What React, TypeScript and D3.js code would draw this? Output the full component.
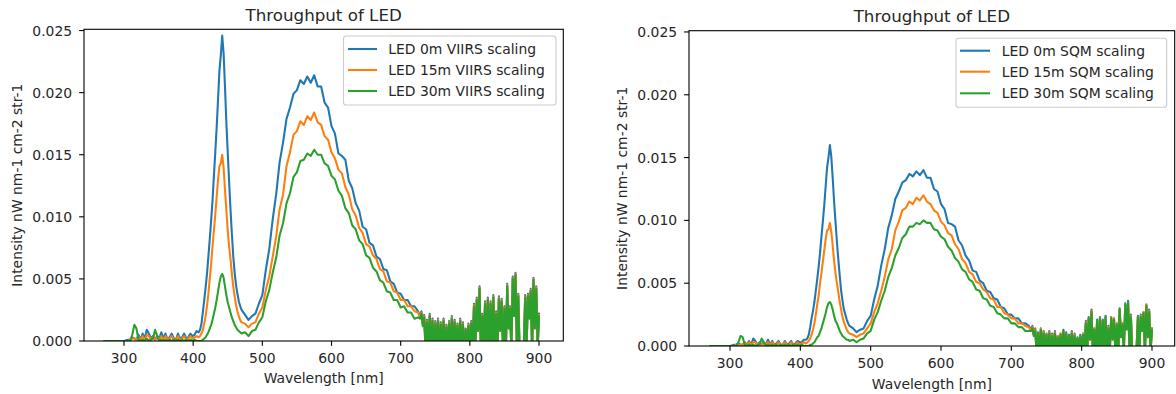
import React from "react";
import * as d3 from "d3";

// ---------- DATA (intensity values in units of 1e-4 nW nm-1 cm-2 str-1) ----------
const UNIT = 1e-4;

const wavelength = [
  272, 280, 290, 300, 306,
  309, 312, 315, 318, 321, 324, 327, 330, 333, 336, 339, 342, 345, 348, 351, 354, 357, 360, 363, 366,
  369, 372, 375, 378, 381, 384, 387, 390, 393, 396, 399, 402, 405,
  408, 410, 412, 414, 416, 418, 420, 422, 424, 426, 428, 430, 432, 434, 436, 438, 440, 442, 444, 446,
  448, 450, 452, 454, 456, 458, 460, 462, 464, 466, 468, 470,
  475, 480, 485, 490, 495, 500, 505, 510, 515, 520, 525, 530, 535, 540, 545, 550, 555, 560, 565, 570,
  575, 580, 585, 590, 595, 600, 605, 610, 615, 620, 625, 630, 635, 640, 645, 650, 655, 660, 665, 670,
  675, 680, 685, 690, 695, 700, 705, 710, 715, 720, 725,
  728, 730, 732, 734, 736, 738, 740, 742, 744, 746, 748, 750, 752, 754, 756, 758, 760, 762, 764, 766,
  768, 770, 772, 774, 776, 778, 780, 782, 784, 786, 788, 790, 792, 794, 796, 798, 800, 802, 804, 806,
  808, 810, 812, 814, 816, 818, 820, 822, 824, 826, 828, 830, 832, 834, 836, 838, 840, 842, 844, 846,
  848, 850, 852, 854, 856, 858, 860, 862, 864, 866, 868, 870, 872, 874, 876, 878, 880, 882, 884, 886,
  888, 890, 892, 894, 896, 898, 900,
];

const viirs0m = [
  0, 0, 0, 0, 1,
  1, 3, 2, 1, 5, 1, 6, 2, 9, 6, 2, 4, 1, 4, 2, 7, 2, 6, 1, 3, 6, 2, 1, 6, 2, 3, 6, 2, 3, 6, 4, 5, 8,
  7, 9, 14, 23, 33, 43, 54, 68, 82, 97, 113, 133, 152, 172, 195, 218, 230, 246, 232, 205,
  176, 152, 128, 106, 86, 68, 55, 45, 38, 32, 28, 25,
  21, 17, 20, 22, 30, 37, 57, 74, 98, 118, 144, 160, 179, 188, 199, 202, 210, 207, 213, 208,
  214, 205, 205, 192, 188, 173, 167, 151, 149, 146, 129, 123, 111, 105, 92, 90, 79, 77, 68, 66,
  58, 57, 48, 46, 39, 38, 33, 33, 28, 28, 24,
  20, 24, 14, 21, -8, 17, -6, 22, -5, 18, -8, 16, -6, 18, -8, 15, -5, 18, -8, 13,
  -4, 16, -6, 20, -5, 17, -8, 14, -3, 18, -6, 15, -8, 10, -2, 14, -6, 16, -4, 30,
  -6, 35, 9, 44, -10, 22, -4, 32, -8, 35, -6, 32, -10, 37, -8, 24, -6, 36, 9, 34,
  -8, 28, -10, 46, 11, 28, -6, 52, 22, 55, -5, 38, -10, -6, -10, -4, 37, -6, 38, 20,
  42, -8, 51, 11, 44, -6, 22,
];

const viirs15m = [
  0, 0, 0, 0, 0,
  1, 2, 2, 1, 3, 1, 4, 1, 5, 4, 1, 3, 1, 3, 1, 4, 1, 4, 1, 2, 4, 1, 1, 4, 1, 2, 4, 1, 2, 4, 2, 3, 4,
  3, 4, 6, 9, 14, 20, 28, 38, 50, 62, 76, 89, 102, 116, 130, 141, 143, 150, 140, 122,
  105, 89, 76, 66, 54, 44, 36, 29, 24, 20, 17, 15,
  14, 11, 14, 15, 22, 27, 41, 52, 68, 84, 106, 118, 141, 152, 166, 169, 177, 174, 181, 178,
  184, 176, 174, 165, 162, 152, 147, 138, 135, 124, 118, 106, 101, 91, 87, 78, 76, 69, 66, 58,
  56, 48, 47, 40, 39, 33, 33, 28, 28, 24, 23,
  19, 23, 13, 20, -8, 16, -6, 21, -5, 17, -8, 15, -6, 17, -8, 14, -5, 17, -8, 12,
  -4, 15, -6, 19, -5, 16, -8, 13, -3, 17, -6, 14, -8, 9, -2, 13, -6, 15, -4, 29,
  -6, 34, 8, 43, -10, 21, -4, 31, -8, 34, -6, 31, -10, 36, -8, 23, -6, 35, 8, 33,
  -8, 27, -10, 45, 10, 27, -6, 51, 21, 54, -5, 37, -10, -6, -10, -4, 36, -6, 37, 19,
  41, -8, 50, 10, 43, -6, 21,
];

const viirs30m = [
  0, 0, 0, 0, 0,
  0, 5, 13, 10, 1, 0, 1, 0, 2, 0, 1, 2, 9, 4, 0, 1, 0, 1, 0, 1, 0, 1, 0, 1, 0, 1, 0, 1, 0, 1, 0, 1, 0,
  0, 0, 0, 1, 2, 3, 5, 7, 10, 13, 17, 22, 27, 33, 40, 47, 52, 54, 51, 44,
  37, 31, 27, 23, 19, 16, 13, 11, 9, 8, 7, 6,
  7, 4, 8, 9, 15, 19, 32, 41, 55, 67, 85, 95, 111, 119, 132, 136, 145, 146, 151, 149,
  154, 150, 150, 143, 141, 133, 130, 121, 117, 107, 103, 93, 90, 81, 78, 69, 67, 59, 56, 49,
  47, 40, 39, 33, 33, 27, 28, 23, 23, 18, 19,
  18, 22, 12, 19, -8, 15, -6, 20, -5, 16, -8, 14, -6, 16, -8, 13, -5, 16, -8, 11,
  -4, 14, -6, 18, -5, 15, -8, 12, -3, 16, -6, 13, -8, 9, -2, 12, -6, 14, -4, 28,
  -6, 33, 8, 42, -10, 20, -4, 30, -8, 33, -6, 30, -10, 35, -8, 22, -6, 34, 8, 32,
  -8, 26, -10, 44, 10, 26, -6, 50, 20, 53, -5, 36, -10, -6, -10, -4, 35, -6, 36, 18,
  40, -8, 49, 10, 42, -6, 20,
];

const sqm0m = [
  0, 0, 0, 0, 1,
  1, 2, 1, 1, 3, 1, 4, 1, 6, 4, 1, 3, 1, 3, 1, 5, 1, 4, 1, 2, 4, 1, 1, 4, 1, 2, 4, 1, 2, 4, 3, 3, 5,
  5, 6, 9, 15, 22, 28, 35, 44, 53, 63, 74, 87, 99, 112, 127, 142, 150, 160, 151, 134,
  115, 99, 83, 69, 56, 44, 36, 29, 25, 21, 18, 16,
  14, 11, 13, 14, 20, 24, 37, 48, 64, 77, 94, 104, 117, 123, 130, 132, 137, 135, 139, 136,
  140, 134, 134, 125, 123, 113, 109, 98, 97, 95, 84, 80, 72, 68, 60, 59, 52, 50, 44, 43,
  38, 37, 31, 30, 25, 25, 22, 22, 18, 18, 16,
  13, 16, 9, 14, -5, 11, -4, 14, -3, 12, -5, 10, -4, 12, -5, 10, -3, 12, -5, 8,
  -3, 10, -4, 13, -3, 11, -5, 9, -2, 12, -4, 10, -5, 7, -1, 9, -4, 10, -3, 20,
  -4, 23, 6, 29, -7, 14, -3, 21, -5, 23, -4, 21, -7, 24, -5, 16, -4, 23, 6, 22,
  -5, 18, -7, 30, 7, 18, -4, 34, 14, 36, -3, 25, -7, -4, -7, -3, 24, -4, 25, 13,
  27, -5, 33, 7, 29, -4, 14,
];

const sqm15m = [
  0, 0, 0, 0, 0,
  1, 1, 1, 1, 2, 1, 3, 1, 3, 3, 1, 2, 1, 2, 1, 3, 1, 3, 1, 1, 3, 1, 1, 3, 1, 1, 3, 1, 1, 3, 1, 2, 3,
  2, 3, 4, 6, 9, 13, 18, 25, 33, 40, 50, 58, 67, 76, 85, 92, 93, 98, 91, 80,
  68, 58, 50, 43, 35, 29, 23, 19, 16, 13, 11, 10,
  9, 7, 9, 10, 14, 18, 27, 34, 44, 55, 69, 77, 92, 99, 108, 110, 115, 113, 118, 116,
  120, 115, 113, 108, 106, 99, 96, 90, 88, 81, 77, 69, 66, 59, 57, 51, 50, 45, 43, 38,
  37, 31, 31, 26, 25, 22, 22, 18, 18, 16, 15,
  12, 15, 8, 13, -5, 10, -4, 14, -3, 11, -5, 10, -4, 11, -5, 9, -3, 11, -5, 8,
  -3, 10, -4, 12, -3, 10, -5, 8, -2, 11, -4, 9, -5, 6, -1, 8, -4, 10, -3, 19,
  -4, 22, 5, 28, -7, 14, -3, 20, -5, 22, -4, 20, -7, 23, -5, 15, -4, 23, 5, 22,
  -5, 18, -7, 29, 7, 18, -4, 33, 14, 35, -3, 24, -7, -4, -7, -3, 23, -4, 24, 12,
  27, -5, 33, 7, 28, -4, 14,
];

const sqm30m = [
  0, 0, 0, 0, 0,
  0, 3, 8, 7, 1, 0, 1, 0, 1, 0, 1, 1, 6, 3, 0, 1, 0, 1, 0, 1, 0, 1, 0, 1, 0, 1, 0, 1, 0, 1, 0, 1, 0,
  0, 0, 0, 1, 1, 2, 3, 5, 7, 8, 11, 14, 18, 22, 26, 31, 34, 35, 33, 29,
  24, 20, 18, 15, 12, 10, 8, 7, 6, 5, 5, 4,
  5, 3, 5, 6, 10, 12, 21, 27, 36, 44, 55, 62, 72, 78, 86, 89, 95, 95, 98, 97,
  100, 98, 98, 93, 92, 87, 85, 79, 76, 70, 67, 61, 59, 53, 51, 45, 44, 38, 37, 32,
  31, 26, 25, 22, 22, 18, 18, 15, 15, 12, 12,
  12, 14, 8, 12, -5, 10, -4, 13, -3, 10, -5, 9, -4, 10, -5, 8, -3, 10, -5, 7,
  -3, 9, -4, 12, -3, 10, -5, 8, -2, 10, -4, 8, -5, 6, -1, 8, -4, 9, -3, 18,
  -4, 22, 5, 27, -7, 13, -3, 20, -5, 22, -4, 20, -7, 23, -5, 14, -4, 22, 5, 21,
  -5, 17, -7, 29, 7, 17, -4, 33, 13, 35, -3, 23, -7, -4, -7, -3, 23, -4, 23, 12,
  26, -5, 32, 7, 27, -4, 13,
];

const xTicks = [300, 400, 500, 600, 700, 800, 900];
const yTicks = [0, 0.005, 0.01, 0.015, 0.02, 0.025];
const seriesColors = ["#1f77b4", "#ff7f0e", "#2ca02c"];
const viirsLabels = ["LED 0m VIIRS scaling", "LED 15m VIIRS scaling", "LED 30m VIIRS scaling"];
const sqmLabels = ["LED 0m SQM scaling", "LED 15m SQM scaling", "LED 30m SQM scaling"];
const titleText = "Throughput of LED";
const xLabelText = "Wavelength [nm]";
const yLabelText = "Intensity nW nm-1 cm-2 str-1";

// ---------- LAYOUT ----------
const FONT = "DejaVu Sans, Verdana, sans-serif";
const FS = 13.9;

type PanelCfg = {
  id: string;
  left: number; right: number; top: number; bottom: number;
  xDomain: [number, number];
  yDomain: [number, number];
  series: number[][];
  labels: string[];
  legend: { x0: number; x1: number; y0: number; y1: number; h0: number; h1: number; tx: number; rows: number[] };
  xLabelY: number;
  yLabelX: number;
};

const panels: PanelCfg[] = [
  {
    id: "viirs",
    left: 84, right: 563.3, top: 29.3, bottom: 341,
    xDomain: [242.2, 935.1],
    yDomain: [0, 0.0251],
    series: [viirs0m, viirs15m, viirs30m],
    labels: viirsLabels,
    legend: { x0: 343.5, x1: 556, y0: 36, y1: 105, h0: 348, h1: 377, tx: 388.3, rows: [49, 70, 91] },
    xLabelY: 378.3,
    yLabelX: 17,
  },
  {
    id: "sqm",
    left: 689, right: 1174.7, top: 30.7, bottom: 346,
    xDomain: [241.7, 932.3],
    yDomain: [0, 0.0251],
    series: [sqm0m, sqm15m, sqm30m],
    labels: sqmLabels,
    legend: { x0: 956, x1: 1166.7, y0: 38.3, y1: 107.3, h0: 960, h1: 990, tx: 1001.7, rows: [50.7, 71.7, 93.3] },
    xLabelY: 383.5,
    yLabelX: 622,
  },
];

function Panel({ cfg }: { cfg: PanelCfg }) {
  const x = d3.scaleLinear().domain(cfg.xDomain).range([cfg.left, cfg.right]);
  const y = d3.scaleLinear().domain(cfg.yDomain).range([cfg.bottom, cfg.top]);
  const line = d3
    .line<number>()
    .x((_, i) => x(wavelength[i]))
    .y((v) => y(v * UNIT));
  const fmt = d3.format(".3f");
  const tickLen = 4.86;
  const clipId = `clip-${cfg.id}`;
  const cx = (cfg.left + cfg.right) / 2;
  const cy = (cfg.top + cfg.bottom) / 2;
  return (
    <g>
      <defs>
        <clipPath id={clipId}>
          <rect x={cfg.left} y={cfg.top} width={cfg.right - cfg.left} height={cfg.bottom - cfg.top} />
        </clipPath>
      </defs>
      <g clipPath={`url(#${clipId})`}>
        {cfg.series.map((s, k) => (
          <path
            key={k}
            d={line(s) || ""}
            fill="none"
            stroke={seriesColors[k]}
            strokeWidth={2.08}
            strokeLinejoin="round"
            strokeLinecap="square"
          />
        ))}
      </g>
      <rect
        x={cfg.left}
        y={cfg.top}
        width={cfg.right - cfg.left}
        height={cfg.bottom - cfg.top}
        fill="none"
        stroke="#000"
        strokeWidth={1.1}
      />
      {xTicks.map((t) => (
        <g key={`x${t}`}>
          <line x1={x(t)} x2={x(t)} y1={cfg.bottom} y2={cfg.bottom + tickLen} stroke="#000" strokeWidth={1.1} />
          <text
            x={x(t)}
            y={cfg.bottom + tickLen + 4.86 + 7.5}
            textAnchor="middle"
            dominantBaseline="central"
            fontFamily={FONT}
            fontSize={FS}
            fill="#262626"
          >
            {t}
          </text>
        </g>
      ))}
      {yTicks.map((t) => (
        <g key={`y${t}`}>
          <line x1={cfg.left - tickLen} x2={cfg.left} y1={y(t)} y2={y(t)} stroke="#000" strokeWidth={1.1} />
          <text
            x={cfg.left - tickLen - 7}
            y={y(t)}
            textAnchor="end"
            dominantBaseline="central"
            fontFamily={FONT}
            fontSize={FS}
            fill="#262626"
          >
            {fmt(t)}
          </text>
        </g>
      ))}
      <text
        x={cx}
        y={cfg.top - 8.3}
        textAnchor="middle"
        fontFamily={FONT}
        fontSize={16.7}
        fill="#262626"
      >
        {titleText}
      </text>
      <text
        x={cx}
        y={cfg.xLabelY}
        textAnchor="middle"
        dominantBaseline="central"
        fontFamily={FONT}
        fontSize={FS}
        fill="#262626"
      >
        {xLabelText}
      </text>
      <text
        transform={`translate(${cfg.yLabelX},${cy}) rotate(-90)`}
        textAnchor="middle"
        dominantBaseline="central"
        fontFamily={FONT}
        fontSize={FS}
        fill="#262626"
      >
        {yLabelText}
      </text>
      <rect
        x={cfg.legend.x0}
        y={cfg.legend.y0}
        width={cfg.legend.x1 - cfg.legend.x0}
        height={cfg.legend.y1 - cfg.legend.y0}
        rx={2.8}
        fill="#fff"
        fillOpacity={0.8}
        stroke="#cccccc"
        strokeWidth={1.1}
      />
      {cfg.labels.map((lab, k) => (
        <g key={lab}>
          <line
            x1={cfg.legend.h0}
            x2={cfg.legend.h1}
            y1={cfg.legend.rows[k]}
            y2={cfg.legend.rows[k]}
            stroke={seriesColors[k]}
            strokeWidth={2.08}
          />
          <text
            x={cfg.legend.tx}
            y={cfg.legend.rows[k]}
            dominantBaseline="central"
            fontFamily={FONT}
            fontSize={FS}
            fill="#262626"
          >
            {lab}
          </text>
        </g>
      ))}
    </g>
  );
}

export default function App() {
  return (
    <svg
      width={1176}
      height={394}
      style={{ position: "absolute", left: 0, top: 0, background: "#fff" }}
    >
      <rect width={1176} height={394} fill="#fff" />
      {panels.map((p) => (
        <Panel key={p.id} cfg={p} />
      ))}
    </svg>
  );
}
